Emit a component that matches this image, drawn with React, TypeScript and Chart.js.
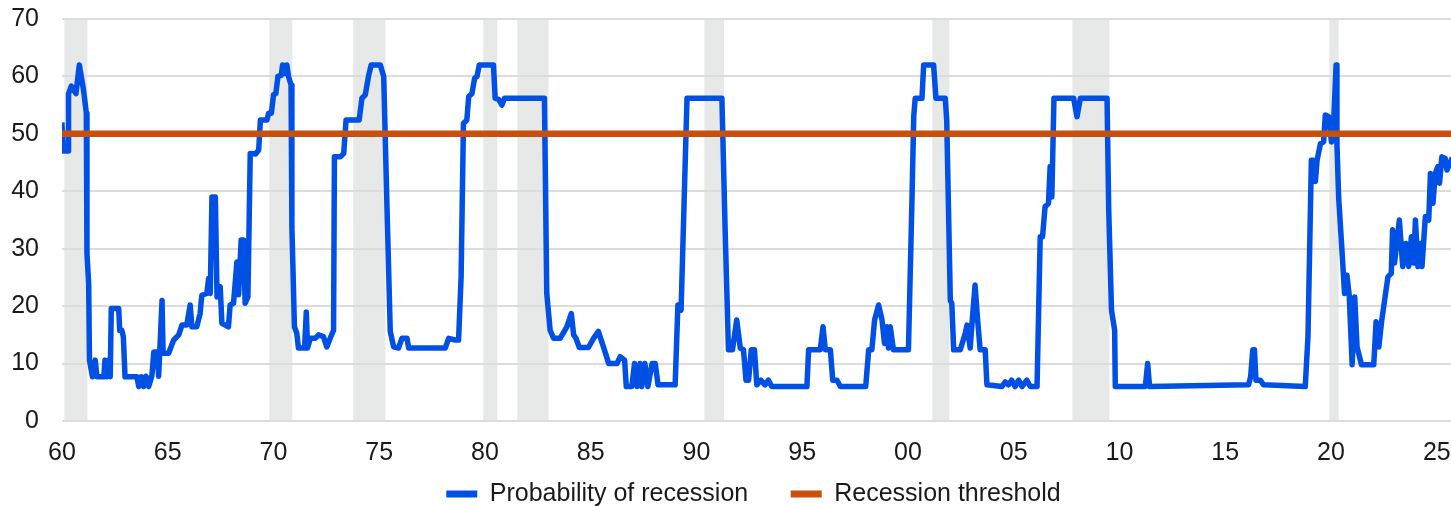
import React, { useEffect, useRef } from "react";
import { Chart, registerables } from "chart.js";

Chart.register(...registerables);

// Recession probability (decimal year, %)
const probX = [
  1960.00, 1960.07, 1960.30, 1960.31, 1960.44, 1960.66, 1960.82, 1961.02, 1961.15, 1961.18,
  1961.26, 1961.30, 1961.44, 1961.57, 1961.65, 1961.98, 1962.03, 1962.13, 1962.20, 1962.28,
  1962.33, 1962.68, 1962.73, 1962.83, 1962.90, 1962.98, 1963.54, 1963.63, 1963.75, 1963.86,
  1963.97, 1964.10, 1964.25, 1964.34, 1964.49, 1964.57, 1964.73, 1964.78, 1965.04, 1965.28,
  1965.52, 1965.67, 1965.90, 1966.06, 1966.14, 1966.37, 1966.53, 1966.61, 1966.85, 1966.93,
  1967.01, 1967.09, 1967.25, 1967.33, 1967.48, 1967.56, 1967.87, 1967.95, 1968.11, 1968.27,
  1968.35, 1968.47, 1968.58, 1968.66, 1968.79, 1968.90, 1969.15, 1969.30, 1969.38, 1969.69,
  1969.77, 1969.90, 1970.00, 1970.11, 1970.21, 1970.37, 1970.43, 1970.55, 1970.63, 1970.71,
  1970.83, 1970.87, 1970.99, 1971.10, 1971.18, 1971.47, 1971.55, 1971.61, 1971.74, 1971.97,
  1972.13, 1972.36, 1972.52, 1972.68, 1972.84, 1972.88, 1973.16, 1973.32, 1973.43, 1974.05,
  1974.18, 1974.34, 1974.49, 1974.62, 1975.05, 1975.21, 1975.37, 1975.52, 1975.68, 1975.91,
  1976.07, 1976.31, 1976.39, 1978.12, 1978.28, 1978.59, 1978.75, 1978.87, 1978.98, 1979.14,
  1979.23, 1979.38, 1979.51, 1979.62, 1979.73, 1980.40, 1980.48, 1980.64, 1980.80, 1980.92,
  1982.81, 1982.92, 1983.08, 1983.24, 1983.55, 1983.87, 1984.08, 1984.19, 1984.30, 1984.46,
  1984.89, 1985.13, 1985.36, 1985.60, 1985.85, 1986.24, 1986.39, 1986.60, 1986.68, 1986.94,
  1987.07, 1987.18, 1987.33, 1987.41, 1987.56, 1987.70, 1987.90, 1988.05, 1988.18, 1988.99,
  1989.12, 1989.27, 1989.55, 1991.20, 1991.35, 1991.51, 1991.70, 1991.90, 1992.07, 1992.22,
  1992.34, 1992.46, 1992.59, 1992.74, 1992.85, 1993.05, 1993.24, 1993.40, 1993.56, 1995.22,
  1995.30, 1995.85, 1995.98, 1996.09, 1996.33, 1996.44, 1996.64, 1996.80, 1998.00, 1998.14,
  1998.29, 1998.42, 1998.61, 1998.77, 1998.89, 1999.00, 1999.08, 1999.16, 1999.31, 2000.02,
  2000.19, 2000.27, 2000.34, 2000.66, 2000.74, 2001.21, 2001.32, 2001.76, 2001.83, 2002.00,
  2002.07, 2002.16, 2002.47, 2002.71, 2002.79, 2002.94, 2003.02, 2003.17, 2003.29, 2003.41,
  2003.65, 2003.73, 2004.44, 2004.59, 2004.75, 2004.90, 2005.06, 2005.23, 2005.39, 2005.62,
  2005.78, 2006.10, 2006.25, 2006.36, 2006.48, 2006.64, 2006.72, 2006.80, 2006.90, 2007.83,
  2007.99, 2008.15, 2009.41, 2009.49, 2009.62, 2009.77, 2009.80, 2011.22, 2011.33, 2011.42,
  2016.10, 2016.20, 2016.30, 2016.38, 2016.45, 2016.66, 2016.81, 2018.78, 2018.91, 2019.07,
  2019.18, 2019.26, 2019.34, 2019.50, 2019.65, 2019.73, 2019.89, 2020.02, 2020.13, 2020.24,
  2020.28, 2020.36, 2020.55, 2020.64, 2020.75, 2020.86, 2021.00, 2021.12, 2021.23, 2021.44,
  2022.02, 2022.13, 2022.26, 2022.39, 2022.69, 2022.85, 2022.91, 2023.00, 2023.23, 2023.39,
  2023.54, 2023.67, 2023.80, 2023.91, 2023.99, 2024.11, 2024.22, 2024.30, 2024.46, 2024.62,
  2024.70, 2024.82, 2024.93, 2025.05, 2025.13, 2025.24, 2025.40, 2025.48, 2025.68,
];
const probY = [
  51.5, 47, 47, 57, 58.3, 57, 62, 57.6, 53.6, 29.2,
  24, 10.6, 7.7, 10.6, 7.7, 7.7, 10.6, 7.7, 10.6, 7.7,
  19.6, 19.6, 15.8, 15.8, 14.7, 7.7, 7.7, 6, 7.7, 6,
  7.8, 6, 7.9, 12, 12, 7.8, 21, 11.8, 11.8, 14.1,
  15, 16.7, 16.7, 20.2, 16.4, 16.4, 18.7, 21.9, 22.2, 24.8,
  22.2, 39, 39, 21.6, 23.4, 17, 16.4, 20.2, 20.5, 27.7,
  22, 31.5, 31.5, 20.5, 21.6, 46.6, 46.5, 47.2, 52.4, 52.4,
  53.6, 53.6, 56.8, 57, 60, 60.2, 62, 60.5, 62, 60,
  58.5, 33.8, 16.4, 15.3, 12.7, 12.7, 19, 12.7, 14.4, 14.4,
  15, 14.7, 12.9, 14.4, 15.8, 46, 46, 46.6, 52.4, 52.4,
  56.2, 56.8, 60, 62, 62, 60, 36.7, 15.6, 12.9, 12.7,
  14.4, 14.4, 12.7, 12.7, 14.4, 14.1, 14.1, 25.1, 51.8, 52.4,
  56.5, 57, 59.7, 60, 62, 62, 56.2, 56, 55, 56.2,
  56.2, 22.2, 15.8, 14.4, 14.4, 16.4, 18.7, 15, 14.4, 12.8,
  12.8, 14.4, 15.6, 12.9, 10, 10, 11.2, 10.6, 6, 6,
  10, 6, 10, 6, 10, 6, 10, 10, 6.3, 6.3,
  20.2, 19.3, 56.2, 56.2, 33.8, 12.4, 12.4, 17.6, 12.7, 12.4,
  7.1, 7.1, 12.4, 12.4, 6.3, 7.1, 6.3, 7.1, 6, 6,
  12.4, 12.4, 16.4, 12.4, 12.4, 7.1, 7.1, 6, 6, 12.4,
  12.4, 17.6, 20.2, 17.6, 13.5, 16.4, 12.7, 16.4, 12.4, 12.4,
  39, 53, 56.2, 56.2, 62, 62, 56.2, 56.2, 52.4, 21,
  20.5, 12.4, 12.4, 15.3, 16.7, 12.7, 16.7, 23.7, 17.6, 12.4,
  12.4, 6.3, 6, 6.8, 6.3, 7.1, 6, 7.1, 6, 7.1,
  6, 6, 32.1, 32.1, 37.3, 37.9, 44.3, 39, 56.2, 56.2,
  53, 56.2, 56.2, 36.7, 19.3, 15.8, 6, 6, 10, 6,
  6.3, 7.7, 12.4, 12.4, 7.1, 7.1, 6.3, 6, 14.7, 45.4,
  45.4, 41.7, 45.4, 48.3, 48.6, 53.3, 53, 48.6, 52.4, 62,
  48.3, 39, 27.7, 22.2, 25.4, 21.9, 9.8, 21.6, 12.9, 9.8,
  9.8, 17.3, 12.9, 17.3, 25.1, 25.7, 33.3, 27.5, 35, 26.9,
  30.9, 26.9, 32.1, 27.5, 35, 26.9, 30.9, 26.9, 35.6, 35,
  43.1, 37.9, 43.1, 44.3, 41.4, 46, 45.7, 43.7, 45.4,
];

const thresholdValue = 50;
const xMin = 1960;
const xMax = 2028.32;
const thresholdX = [xMin, xMax];

// Recession periods (shaded)
const recessionStart = [1960.11, 1969.8, 1973.77, 1979.92, 1981.53, 1990.37, 2001.15, 2007.77, 2019.92];
const recessionEnd = [1961.2, 1970.89, 1975.29, 1980.58, 1983.0, 1991.3, 2001.95, 2009.52, 2020.36];

const xTickYears = [1960, 1965, 1970, 1975, 1980, 1985, 1990, 1995, 2000, 2005, 2010, 2015, 2020, 2025];
const xTickLabels = ["60", "65", "70", "75", "80", "85", "90", "95", "00", "05", "10", "15", "20", "25"];

const seriesLabels = ["Probability of recession", "Recession threshold"];

const FONT = "'Liberation Sans', Arial, sans-serif";
const BLUE = "#0050E6";
const ORANGE = "#C9500C";

const shadingPlugin = {
  id: "recessionShading",
  beforeDraw(chart: any) {
    const { ctx, chartArea, scales } = chart;
    const xs = scales.x;
    ctx.save();
    ctx.fillStyle = "#e7e8e8";
    for (let i = 0; i < recessionStart.length; i++) {
      const x0 = xs.getPixelForValue(recessionStart[i]);
      const x1 = xs.getPixelForValue(recessionEnd[i]);
      ctx.fillRect(x0, chartArea.top, x1 - x0, chartArea.bottom - chartArea.top);
    }
    ctx.restore();
  },
};

// Pull the legend up closer to the axis (legend labels padding is used for item spacing)
const legendShiftPlugin = {
  id: "legendShift",
  afterLayout(chart: any) {
    const lg = chart.legend;
    if (!lg) return;
    lg.top = chart.chartArea.bottom + 18;
    lg.bottom = chart.height;
    lg.height = lg.bottom - lg.top;
  },
};

export default function App() {
  const ref = useRef<HTMLCanvasElement>(null);

  useEffect(() => {
    if (!ref.current) return;
    const chart = new Chart(ref.current, {
      type: "line",
      data: {
        datasets: [
          {
            label: seriesLabels[1],
            data: thresholdX.map((x) => ({ x, y: thresholdValue })),
            borderColor: ORANGE,
            backgroundColor: ORANGE,
            borderWidth: 6.5,
            pointRadius: 0,
            borderCapStyle: "square",
            fill: false,
          },
          {
            label: seriesLabels[0],
            data: probX.map((x, i) => ({ x, y: probY[i] })),
            borderColor: BLUE,
            backgroundColor: BLUE,
            borderWidth: 5.5,
            pointRadius: 0,
            tension: 0,
            borderJoinStyle: "round",
            borderCapStyle: "square",
            fill: false,
          },
        ],
      },
      options: {
        responsive: false,
        animation: false,
        devicePixelRatio: 1,
        layout: { padding: { top: 19, left: 0, right: 0, bottom: 0 } },
        plugins: {
          tooltip: { enabled: false },
          legend: {
            position: "bottom",
            maxHeight: 38,
            labels: {
              usePointStyle: true,
              pointStyle: "line",
              pointStyleWidth: 31,
              padding: 42.5,
              color: "#1a1a1a",
              font: { family: FONT, size: 25 },
              sort: (a: any, b: any) => b.datasetIndex - a.datasetIndex,
              generateLabels: (chart: any) =>
                Chart.defaults.plugins.legend.labels
                  .generateLabels(chart)
                  .map((l: any) => ({ ...l, lineWidth: 7 })),
            },
          },
        },
        scales: {
          x: {
            type: "linear",
            min: xMin,
            max: xMax,
            grid: { display: false },
            border: { display: false },
            afterBuildTicks: (scale: any) => {
              scale.ticks = xTickYears.map((v) => ({ value: v }));
            },
            afterFit: (scale: any) => {
              scale.height = 47;
            },
            ticks: {
              autoSkip: false,
              maxRotation: 0,
              padding: 9,
              color: "#1a1a1a",
              font: { family: FONT, size: 25 },
              callback: (_v: any, i: number) => xTickLabels[i],
            },
          },
          y: {
            min: 0,
            max: 70,
            grid: {
              color: "#dcdcdc",
              lineWidth: 2,
              drawTicks: true,
              tickLength: 23,
              tickColor: "rgba(0,0,0,0)",
            },
            border: { display: false },
            afterFit: (scale: any) => {
              scale.width = 62;
            },
            ticks: {
              stepSize: 10,
              padding: 0,
              color: "#1a1a1a",
              font: { family: FONT, size: 25 },
            },
          },
        },
      },
      plugins: [shadingPlugin, legendShiftPlugin],
    });
    return () => chart.destroy();
  }, []);

  return (
    <div
      style={{
        position: "fixed",
        left: 0,
        top: 0,
        width: 1451,
        height: 506,
        overflow: "hidden",
        background: "#ffffff",
      }}
    >
      <canvas ref={ref} width={1507} height={506} style={{ display: "block" }} />
    </div>
  );
}
